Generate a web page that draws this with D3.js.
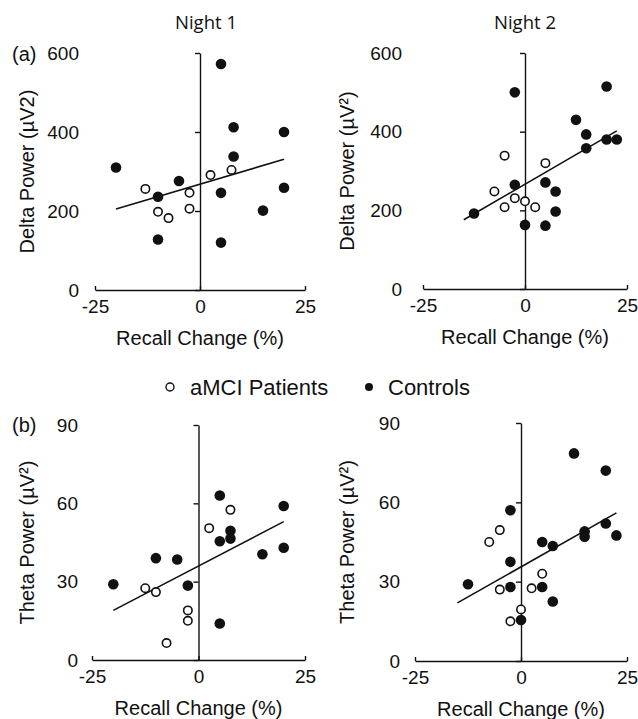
<!DOCTYPE html>
<html>
<head>
<meta charset="utf-8">
<script src="https://d3js.org/d3.v7.min.js"></script>
<style>
  body { margin: 0; background: #fff; }
  text { fill: #111; }
</style>
</head>
<body>
<div id="chart"></div>
<script>

// recall change (%) ticks and the two power scales
var xTicks = [-25, 0, 25];
var deltaTicks = [0, 200, 400, 600];
var thetaTicks = [0, 30, 60, 90];

// Night 1, delta power
var n1DeltaCtrl = [[-20, 310], [5, 572], [8, 412], [20, 400], [8, 338], [-5, 276], [-10, 236],
                   [5, 246], [20, 259], [15, 201], [-10, 128], [5, 120]];
var n1DeltaPat  = [[-13, 256], [-10, 198], [-7.5, 182], [-2.5, 246], [-2.5, 206], [2.5, 291], [7.5, 304]];
var n1DeltaFit  = [[-20, 205], [20, 331]];

// Night 2, delta power
var n2DeltaCtrl = [[-2.5, 500], [20, 515], [12.5, 430], [15, 393], [15, 358], [20, 380], [22.5, 380],
                   [-2.5, 265], [5, 271], [7.5, 248], [7.5, 197], [0, 163], [5, 161], [-12.5, 192]];
var n2DeltaPat  = [[-5, 339], [5, 320], [-7.5, 248], [-5, 208], [-2.5, 231], [0, 223], [2.5, 208]];
var n2DeltaFit  = [[-15, 176], [22.5, 402]];

// Night 1, theta power
var n1ThetaCtrl = [[-20, 29], [-10, 39], [-5, 38.5], [-2.5, 28.5], [5, 63], [7.5, 49.5], [7.5, 46.5],
                   [5, 45.5], [20, 59], [20, 43], [15, 40.5], [5, 14]];
var n1ThetaPat  = [[-12.5, 27.5], [-10, 26], [-2.5, 19], [-2.5, 15], [-7.5, 6.5], [7.5, 57.5], [2.5, 50.5]];
var n1ThetaFit  = [[-20, 19], [20, 53]];

// Night 2, theta power
var n2ThetaCtrl = [[12.5, 78.5], [20, 72], [-2.5, 57], [20, 52], [15, 49], [15, 47], [22.5, 47.5],
                   [5, 45], [7.5, 43.5], [-2.5, 37.5], [-12.5, 29], [-2.5, 28], [5, 28], [7.5, 22.5], [0, 15.5]];
var n2ThetaPat  = [[-7.5, 45], [-5, 49.5], [-5, 27], [5, 33], [2.5, 27.5], [0, 19.5], [-2.5, 15]];
var n2ThetaFit  = [[-15, 22], [22.5, 56]];

var W = 638, H = 719;
var svg = d3.select("#chart").append("svg")
    .attr("width", W)
    .attr("height", H);

var plain = function(d) { return String(d); };   // keep a plain hyphen for negatives

var panels = [
  { ctrl: n1DeltaCtrl, pat: n1DeltaPat, fit: n1DeltaFit, ticks: deltaTicks, ymax: 600,
    xr: [95, 305], yr: [290, 53], labelX: 79, titleX: 27, ytitle: "Delta Power (\u00b5V2)" },
  { ctrl: n2DeltaCtrl, pat: n2DeltaPat, fit: n2DeltaFit, ticks: deltaTicks, ymax: 600,
    xr: [423, 627], yr: [289, 53], labelX: 402, titleX: 347, ytitle: "Delta Power (\u00b5V\u00b2)" },
  { ctrl: n1ThetaCtrl, pat: n1ThetaPat, fit: n1ThetaFit, ticks: thetaTicks, ymax: 90,
    xr: [92, 305], yr: [660, 425], labelX: 78, titleX: 27, ytitle: "Theta Power (\u00b5V\u00b2)" },
  { ctrl: n2ThetaCtrl, pat: n2ThetaPat, fit: n2ThetaFit, ticks: thetaTicks, ymax: 90,
    xr: [415, 627], yr: [661, 423], labelX: 400, titleX: 347, ytitle: "Theta Power (\u00b5V\u00b2)" }
];

panels.forEach(function(p) {
  var x = d3.scaleLinear().domain([-25, 25]).range(p.xr);
  var y = d3.scaleLinear().domain([0, p.ymax]).range(p.yr);
  var g = svg.append("g");

  // horizontal axis at y = 0, small upward ticks
  var xa = g.append("g")
    .attr("transform", "translate(0," + y(0) + ")")
    .call(d3.axisBottom(x).tickValues(xTicks).tickFormat(plain)
      .tickSizeInner(-4).tickSizeOuter(0).tickPadding(10));
  xa.select(".domain").attr("stroke", "#111").attr("stroke-width", 1.4);
  xa.selectAll(".tick line").attr("stroke", "#111").attr("stroke-width", 1.4);
  xa.selectAll("text").attr("fill", "#111")
    .style("font-family", "'Liberation Sans', Arial, sans-serif").style("font-size", "19px");

  // vertical axis through x = 0, ticks only
  var ya = g.append("g")
    .attr("transform", "translate(" + x(0) + ",0)")
    .call(d3.axisLeft(y).tickValues(p.ticks).tickSizeInner(5).tickSizeOuter(0).tickFormat(""));
  ya.select(".domain").attr("stroke", "#111").attr("stroke-width", 1.4);
  ya.selectAll(".tick line").attr("stroke", "#111").attr("stroke-width", 1.4);

  // tick labels sit at the far left
  var yl = g.append("g")
    .attr("transform", "translate(" + p.labelX + ",0)")
    .call(d3.axisLeft(y).tickValues(p.ticks).tickFormat(plain).tickSize(0).tickPadding(0));
  yl.select(".domain").remove();
  yl.selectAll("text").attr("fill", "#111")
    .style("font-family", "'Liberation Sans', Arial, sans-serif").style("font-size", "19px");

  // axis titles
  g.append("text")
    .attr("x", x(0))
    .attr("y", y(0) + 55)
    .attr("text-anchor", "middle")
    .style("font-family", "'Liberation Sans', Arial, sans-serif")
    .style("font-size", "20px")
    .text("Recall Change (%)");

  g.append("text")
    .attr("transform", "translate(" + p.titleX + "," + ((p.yr[0] + p.yr[1]) / 2) + ") rotate(-90)")
    .attr("text-anchor", "middle")
    .attr("dy", "0.36em")
    .style("font-family", "'Liberation Sans', Arial, sans-serif")
    .style("font-size", "20px")
    .text(p.ytitle);

  // fit line
  g.append("path")
    .datum(p.fit)
    .attr("fill", "none")
    .attr("stroke", "#111")
    .attr("stroke-width", 1.6)
    .attr("d", d3.line()
      .x(function(d) { return x(d[0]); })
      .y(function(d) { return y(d[1]); }));

  g.selectAll(".pat")
    .data(p.pat)
    .enter().append("circle")
      .attr("cx", function(d) { return x(d[0]); })
      .attr("cy", function(d) { return y(d[1]); })
      .attr("r", 4.2)
      .attr("fill", "#fff")
      .attr("stroke", "#111")
      .attr("stroke-width", 1.6);

  g.selectAll(".ctrl")
    .data(p.ctrl)
    .enter().append("circle")
      .attr("cx", function(d) { return x(d[0]); })
      .attr("cy", function(d) { return y(d[1]); })
      .attr("r", 5.3)
      .attr("fill", "#111");
});

// column titles
svg.append("text").attr("x", 206).attr("y", 29).attr("text-anchor", "middle")
  .style("font-family", "'Open Sans', sans-serif").style("font-size", "18.5px").text("Night 1");
svg.append("text").attr("x", 525).attr("y", 29).attr("text-anchor", "middle")
  .style("font-family", "'Open Sans', sans-serif").style("font-size", "18.5px").text("Night 2");

// panel letters
svg.append("text").attr("x", 12).attr("y", 61)
  .style("font-family", "'Liberation Sans', Arial, sans-serif").style("font-size", "20px").text("(a)");
svg.append("text").attr("x", 12).attr("y", 432)
  .style("font-family", "'Liberation Sans', Arial, sans-serif").style("font-size", "20px").text("(b)");

// legend
var legend = svg.append("g").attr("transform", "translate(0,387)");
legend.append("circle").attr("cx", 170).attr("cy", 0).attr("r", 4)
  .attr("fill", "#fff").attr("stroke", "#111").attr("stroke-width", 1.4);
legend.append("text").attr("x", 190).attr("y", 0).attr("dy", "0.36em")
  .style("font-family", "'Liberation Sans', Arial, sans-serif").style("font-size", "22px").text("aMCI Patients");
legend.append("circle").attr("cx", 369).attr("cy", 0).attr("r", 4).attr("fill", "#111");
legend.append("text").attr("x", 388).attr("y", 0).attr("dy", "0.36em")
  .style("font-family", "'Liberation Sans', Arial, sans-serif").style("font-size", "22px").text("Controls");

</script>
</body>
</html>
